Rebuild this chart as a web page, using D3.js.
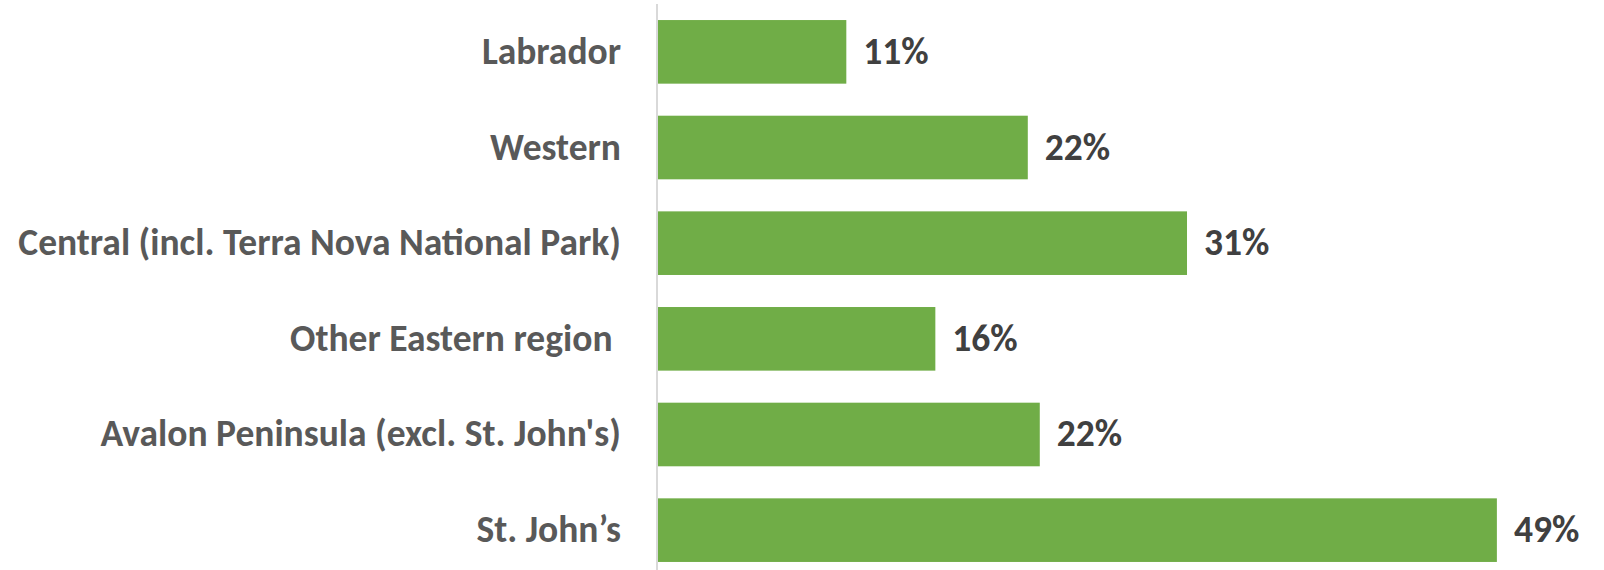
<!DOCTYPE html>
<html>
<head>
<meta charset="utf-8">
<script src="https://cdn.jsdelivr.net/npm/d3@7"></script>
<style>
  html, body { margin: 0; padding: 0; background: #fff; }
  svg text { font-family: Carlito, Calibri, "Open Sans", sans-serif; font-weight: bold; white-space: pre; }
</style>
</head>
<body>
<svg id="chart"></svg>
<script>
// Data
const regions = ["Labrador", "Western", "Central (incl. Terra Nova National Park)", "Other Eastern region ", "Avalon Peninsula (excl. St. John's)", "St. John\u2019s"];
const shares = [11, 21.6, 30.9, 16.2, 22.3, 49];

const width = 1604;
const height = 570;
const axisX = 657;

const svg = d3.select("#chart")
    .attr("width", width)
    .attr("height", height);

const x = d3.scaleLinear()
    .domain([0, 50])
    .range([axisX + 1, axisX + 1 + 17.12 * 50]);

const y = d3.scaleBand()
    .domain(regions)
    .range([-12, 594])
    .padding(0.335);

// bars
svg.append("g")
    .selectAll("rect")
    .data(regions)
    .enter().append("rect")
    .attr("x", x(0))
    .attr("y", d => y(d))
    .attr("width", (d, i) => x(shares[i]) - x(0))
    .attr("height", y.bandwidth())
    .attr("fill", "#70ad47");

// vertical axis line
svg.append("line")
    .attr("x1", axisX)
    .attr("x2", axisX)
    .attr("y1", 4)
    .attr("y2", height)
    .attr("stroke", "#d9d9d9")
    .attr("stroke-width", 2);

// category labels
svg.append("g")
    .selectAll("text")
    .data(regions)
    .enter().append("text")
    .attr("x", axisX - 36)
    .attr("y", d => y(d) + y.bandwidth() / 2)
    .attr("dy", "0.32em")
    .attr("text-anchor", "end")
    .attr("fill", "#595959")
    .style("font-size", "37.5px")
    .text(d => d);

// value labels
svg.append("g")
    .selectAll("text")
    .data(regions)
    .enter().append("text")
    .attr("x", (d, i) => x(shares[i]) + 17)
    .attr("y", d => y(d) + y.bandwidth() / 2)
    .attr("dy", "0.32em")
    .attr("fill", "#404040")
    .style("font-size", "37.5px")
    .text((d, i) => Math.round(shares[i]) + "%");
</script>
</body>
</html>
